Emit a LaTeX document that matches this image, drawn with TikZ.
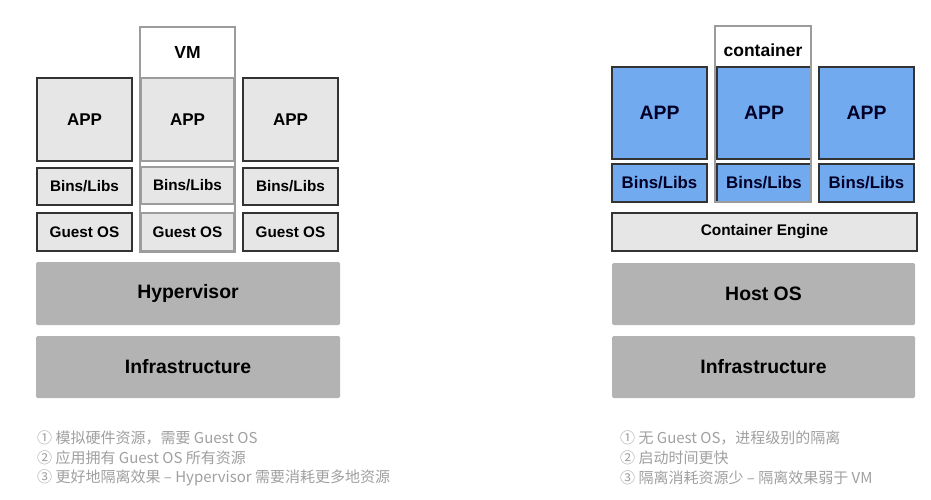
\documentclass[tikz,border=0pt]{standalone}
\usepackage{fontspec}
\setmainfont{Liberation Sans}
\newfontfamily\cjk{Noto Sans CJK SC}
\definecolor{boxgray}{HTML}{E6E6E6}
\definecolor{darkgray}{HTML}{B3B3B3}
\definecolor{appblue}{HTML}{72AAF0}
\definecolor{edge}{HTML}{333333}
\definecolor{notegray}{HTML}{A0A0A0}
\definecolor{outl}{HTML}{9C9C9C}
\tikzset{
  lbox/.style={draw=edge, line width=1.3pt, fill=boxgray, font=\bfseries\fontsize{15.3}{17}\selectfont},
  mbox/.style={draw=outl, line width=1.3pt, fill=boxgray, font=\bfseries\fontsize{15.3}{17}\selectfont},
  bbox/.style={draw=edge, line width=1.3pt, fill=appblue, text=black!85!blue, font=\bfseries\fontsize{16.8}{19}\selectfont},
  appfont/.style={font=\bfseries\fontsize{17}{19}\selectfont},
  cappfont/.style={font=\bfseries\fontsize{19.4}{21}\selectfont},
  layer/.style={fill=darkgray, rounded corners=1.5pt, font=\bfseries\fontsize{19.4}{21}\selectfont},
  outline/.style={draw=outl, line width=1.5pt},
  toplabel/.style={font=\bfseries\fontsize{17.5}{19}\selectfont},
  note/.style={anchor=west, text=notegray, font=\cjk\fontsize{15}{17}\selectfont, inner sep=0pt}
}
\begin{document}
\begin{tikzpicture}[x=1pt,y=-1pt]
\useasboundingbox[fill=white] (0,0) rectangle (931,500);
% ---------- left: VM ----------
\path[fill=white] (140,27) rectangle (235,78);
\node[toplabel] (vm) at (187.5,52) {VM};
\path[lbox,appfont] (37,78) rectangle (132,161) node[midway] (app1) {APP};
\path[mbox,appfont] (141,78) rectangle (234,161) node[midway] (app2) {APP};
\path[lbox,appfont] (243,78) rectangle (338,161) node[midway] (app3) {APP};
\path[lbox] (37,168) rectangle (132,205) node[midway] (bl1) {Bins/Libs};
\path[mbox] (141,167) rectangle (234,204) node[midway] (bl2) {Bins/Libs};
\path[lbox] (243,168) rectangle (338,205) node[midway] (bl3) {Bins/Libs};
\path[lbox] (37,213) rectangle (132,251) node[midway] (go1) {Guest OS};
\path[mbox] (141,213) rectangle (234,251) node[midway] (go2) {Guest OS};
\path[lbox] (243,213) rectangle (338,251) node[midway] (go3) {Guest OS};
\draw[outline] (140,27) rectangle (235,252);
\path[layer] (36,262) rectangle (340,325) node[midway] (hyp) {Hypervisor};
\path[layer] (36,336) rectangle (340,398) node[midway] (inf1) {Infrastructure};
% ---------- right: container ----------
\path[fill=white] (715,26) rectangle (811,67);
\node[toplabel] (ct) at (763,50) {container};
\path[bbox,cappfont] (612,67) rectangle (707,159) node[midway] (capp1) {APP};
\path[bbox,cappfont] (717,67) rectangle (811,159) node[midway] (capp2) {APP};
\path[bbox,cappfont] (819,67) rectangle (914,159) node[midway] (capp3) {APP};
\path[bbox] (612,164) rectangle (707,202) node[midway] (cbl1) {Bins/Libs};
\path[bbox] (717,164) rectangle (811,202) node[midway] (cbl2) {Bins/Libs};
\path[bbox] (819,164) rectangle (914,202) node[midway] (cbl3) {Bins/Libs};
\draw[outline] (715,26) rectangle (811,202);
\path[lbox,font=\bfseries\fontsize{15.4}{17}\selectfont] (612,213) rectangle (917,251) node[midway] (ce) {Container Engine};
\path[layer] (612,263) rectangle (915,325) node[midway] (hos) {Host OS};
\path[layer] (612,336) rectangle (915,398) node[midway] (inf2) {Infrastructure};
% ---------- notes ----------
\node[note] (l1) at (37,438) {①~模拟硬件资源，需要 Guest OS};
\node[note] (l2) at (37,458) {②~应用拥有 Guest OS 所有资源};
\node[note] (l3) at (37,478) {③~更好地隔离效果 – Hypervisor 需要消耗更多地资源};
\node[note] (r1) at (620,438) {①~无 Guest OS，进程级别的隔离};
\node[note] (r2) at (620,458) {②~启动时间更快};
\node[note] (r3) at (620,478) {③~隔离消耗资源少 – 隔离效果弱于 VM};
\end{tikzpicture}
\end{document}
